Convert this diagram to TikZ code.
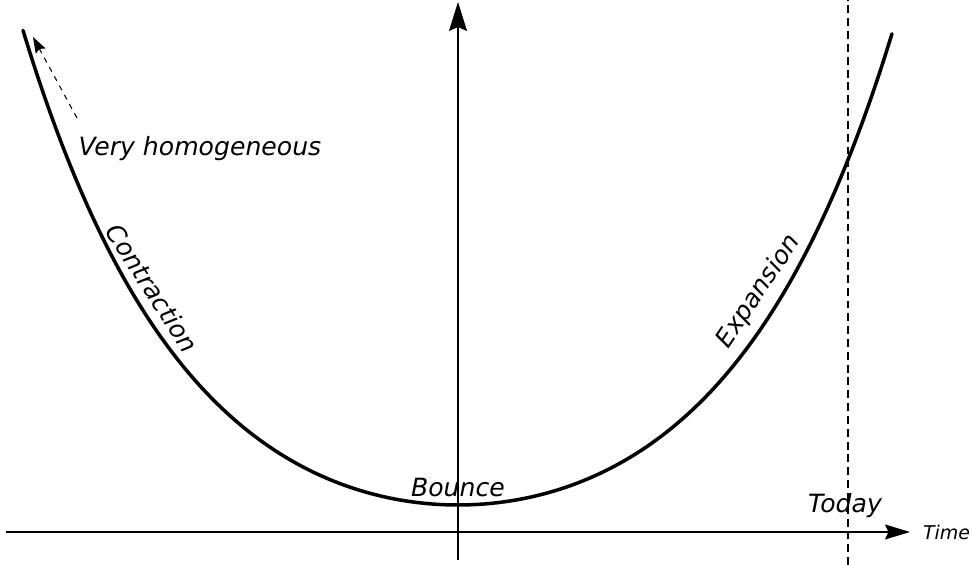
\documentclass[tikz,border=0pt]{standalone}
\usepackage{fontspec}
\setsansfont{DejaVu Sans}
\usepackage{tikz}
\usetikzlibrary{positioning,arrows.meta,calc}
\newcommand\bouncey[1]{0.54+1.666*(cosh((#1)/3.36)-1)}

\begin{document}
\begin{tikzpicture}[
  etiq/.style={font=\sffamily\itshape\fontsize{14.3}{17}\selectfont, inner sep=1pt},
  eje/.style={line width=0.75pt},
  curva/.style={line width=2pt, line cap=round},
  guia/.style={line width=0.7pt, dash pattern=on 4.5pt off 2.8pt}
]
  \useasboundingbox (-9.16,-0.66) rectangle (10.30,10.64);

  % ejes
  \coordinate (x0) at (-9.04,0);
  \coordinate (x1) at (9.04,0);
  \coordinate (y0) at (0,-0.56);
  \coordinate (y1) at (0,10.6);
  \draw[eje, -{Stealth[length=0.5cm, width=0.3cm, inset=0.07cm]}] (x0) -- (x1);
  \draw[eje, -{Stealth[length=0.58cm, width=0.36cm, inset=0.08cm]}] (y0) -- (y1);
  \node[etiq, font=\sffamily\itshape\fontsize{10.8}{13}\selectfont, right=0.22cm of x1] (tiempo) {Time};

  % hoy
  \coordinate (hoy0) at (7.8,-0.66);
  \coordinate (hoy1) at (7.8,10.64);
  \draw[guia] (hoy0) -- (hoy1);
  \node[etiq, anchor=base] (hoy) at (7.74,0.38) {Today};

  % curva del rebote
  \draw[curva] plot[domain=-8.70:8.68, samples=120, smooth] (\x,{\bouncey{\x}});
  \node[etiq, anchor=base] (rebote) at (0,0.70) {Bounce};
  \coordinate (pc) at (-6.44,{\bouncey{-6.44}});
  \coordinate (pe) at (6.38,{\bouncey{6.38}});
  \node[etiq, inner ysep=5.5pt, anchor=south, rotate=-57] (contr) at (pc) {Contraction};
  \node[etiq, inner ysep=5.5pt, anchor=south, rotate=56] (expan) at (pe) {Expansion};

  % pasado lejano
  \node[etiq, anchor=base west] (homog) at (-7.63,7.52) {Very homogeneous};
  \coordinate (cola) at (-7.62,8.28);
  \coordinate (punta) at (-8.5,9.9);
  \draw[line width=0.6pt, dashed, -{Stealth[length=0.32cm, width=0.22cm, inset=0.05cm]}] (cola) -- (punta);
\end{tikzpicture}
\end{document}
